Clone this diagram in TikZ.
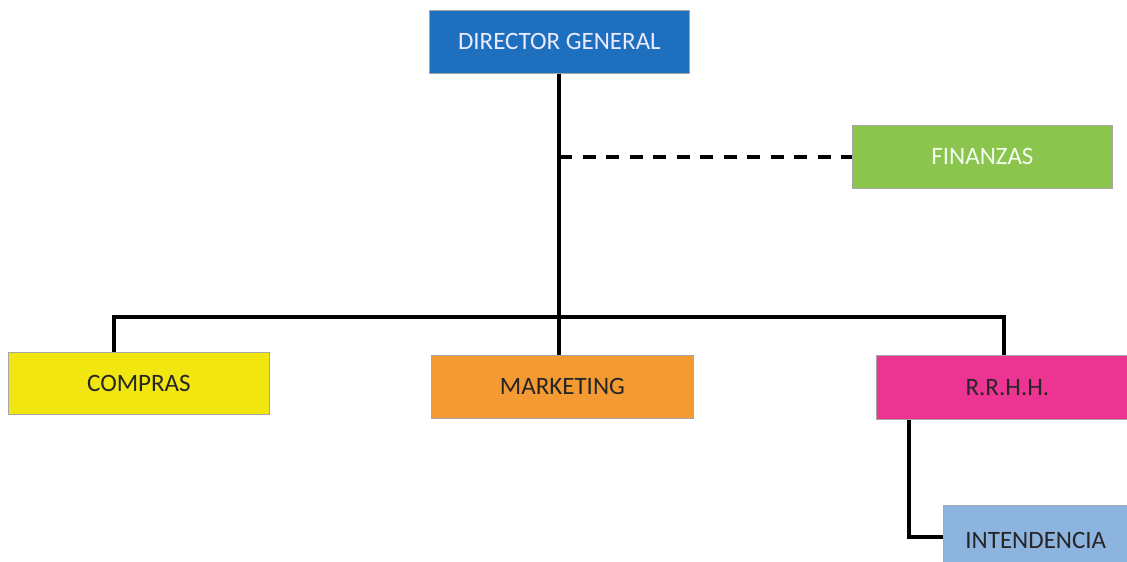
\documentclass[tikz,border=0pt]{standalone}
\usepackage{fontspec}
\setmainfont{Carlito}
\begin{document}
\begin{tikzpicture}[x=1pt,y=-1pt,
  unit/.style={draw=black!35, line width=0.8pt, minimum height=63pt,
    inner sep=0pt, font=\fontsize{25}{30}\selectfont, anchor=north west},
  link/.style={line width=3.4pt, line join=miter},
  staff/.style={link, dash pattern=on 13pt off 10.5pt}]
\useasboundingbox (0,0) rectangle (1127,562);
\clip (0,0) rectangle (1127,562);
\definecolor{cdir}{HTML}{1E6FBE}
\definecolor{cfin}{HTML}{8CC54E}
\definecolor{ccom}{HTML}{F1E60F}
\definecolor{cmkt}{HTML}{F39A33}
\definecolor{crh}{HTML}{EC3592}
\definecolor{cint}{HTML}{8DB3DF}

% units
\node[unit, fill=cdir, text=white!92!blue, minimum width=260pt] (dir) at (429,10) {DIRECTOR GENERAL};
\node[unit, fill=cfin, text=white!95!green, minimum width=260pt] (fin) at (852,125) {FINANZAS};
\node[unit, fill=ccom, text=black!85, minimum width=261pt, minimum height=62pt] (com) at (8,352) {COMPRAS};
\node[unit, fill=cmkt, text=black!85, minimum width=262pt] (mkt) at (431,355) {MARKETING};
\node[unit, fill=crh, text=black!85, minimum width=262pt, minimum height=64pt] (rh) at (876,355) {R.R.H.H.};
\node[unit, fill=cint, text=black!85, minimum width=200pt, text width=200pt, align=left, minimum height=70pt] (int) at (943,505) {\hspace*{22pt}INTENDENCIA};

% connection points
\coordinate (bus) at (559,317);
\coordinate (busL) at (114,317);
\coordinate (busR) at (1004,317);
\coordinate (staffpt) at (559,157);
\coordinate (elbow) at (909,537);

% solid lines
\draw[link] (dir.south -| bus) -- (mkt.north -| bus);
\draw[link] (com.north -| busL) -- (busL) -- (busR) -- (rh.north -| busR);
\draw[link] (rh.south -| elbow) -- (elbow) -- (elbow -| int.west);
% staff line
\draw[staff] (staffpt) -- (staffpt -| fin.west);
\end{tikzpicture}
\end{document}
